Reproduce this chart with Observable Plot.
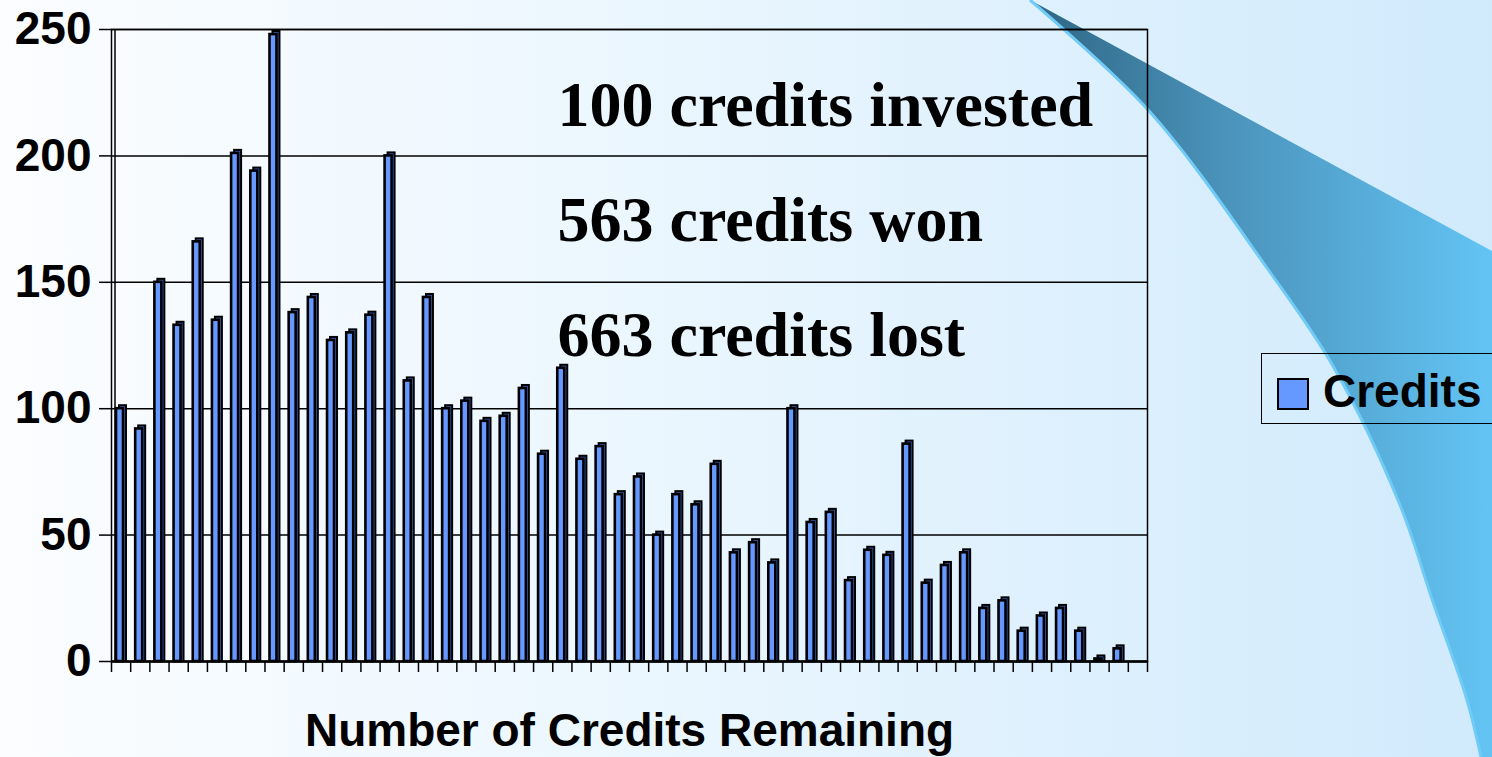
<!DOCTYPE html>
<html>
<head>
<meta charset="utf-8">
<script src="https://cdn.jsdelivr.net/npm/d3@7"></script>
<script src="https://cdn.jsdelivr.net/npm/@observablehq/plot@0.6"></script>
<style>
  html, body { margin: 0; padding: 0; background: #ffffff; }
  #wrap { position: relative; width: 1492px; height: 757px; overflow: hidden; }
  #bg { position: absolute; left: 0; top: 0; }
  #chart { position: absolute; left: 0; top: 0; }
  #legend { position: absolute; left: 1261px; top: 353px; width: 260px; height: 71px;
            border: 1.5px solid #000; box-sizing: border-box; font-family: "Liberation Sans", Arial, sans-serif; }
  #legend .sw { position: absolute; left: 15px; top: 23.5px; width: 32px; height: 32px;
                background: #6699ff; border: 2px solid #000; box-sizing: border-box; }
  #legend .lt { position: absolute; left: 61px; top: 14px; font-size: 46px; line-height: 46px;
                font-weight: bold; color: #000; white-space: nowrap; }
</style>
</head>
<body>
<div id="wrap">
  <svg id="bg" width="1492" height="757"></svg>
  <div id="chart"></div>
  <div id="legend"><span class="sw"></span><span class="lt"></span></div>
</div>
<script>
// ---- data ----
const bins = [1,2,3,4,5,6,7,8,9,10,11,12,13,14,15,16,17,18,19,20,21,22,23,24,25,26,27,
              28,29,30,31,32,33,34,35,36,37,38,39,40,41,42,43,44,45,46,47,48,49,50,51,52,53,54];
const credits = [100, 92, 150, 133, 166, 135, 201, 194, 248, 138,
                 144, 127, 130, 137, 200, 111, 144, 100, 103, 95,
                 97, 108, 82, 116, 80, 85, 66, 73, 50, 66,
                 62, 78, 43, 47, 39, 100, 55, 59, 32, 44,
                 42, 86, 31, 38, 43, 21, 24, 12, 18, 21,
                 12, 1, 5, 0];
const yTicks = [0, 50, 100, 150, 200, 250];
const notes = ["100 credits invested", "563 credits won", "663 credits lost"];
const seriesName = "Credits";
const xTitle = "Number of Credits Remaining";

const table = bins.map((b, i) => ({ i, bin: b, value: credits[i] })).filter(d => d.value > 0);
const edges = bins.map((b, i) => i).concat([bins.length]);

// ---- decorative background ----
(function drawBg() {
  const svg = d3.select("#bg");
  const defs = svg.append("defs");
  const g1 = defs.append("linearGradient").attr("id", "pageGrad").attr("x1", 0).attr("x2", 1).attr("y1", 0).attr("y2", 0);
  g1.append("stop").attr("offset", "0%").attr("stop-color", "#fbfdff");
  g1.append("stop").attr("offset", "45%").attr("stop-color", "#eaf6fe");
  g1.append("stop").attr("offset", "100%").attr("stop-color", "#d0eafc");
  const g2 = defs.append("linearGradient").attr("id", "bandGrad").attr("gradientUnits", "userSpaceOnUse")
    .attr("x1", 1040).attr("x2", 1492).attr("y1", 0).attr("y2", 0);
  g2.append("stop").attr("offset", "0%").attr("stop-color", "#306886");
  g2.append("stop").attr("offset", "40%").attr("stop-color", "#4a92ba");
  g2.append("stop").attr("offset", "100%").attr("stop-color", "#63c4f4");
  svg.append("rect").attr("width", 1492).attr("height", 757).attr("fill", "url(#pageGrad)");
  const curvePts = [[1030, 0], [1150, 112], [1267, 268], [1333, 366], [1400, 505], [1433, 602], [1467, 700], [1481, 757]];
  const curve = d3.line().curve(d3.curveCatmullRom)(curvePts);
  const band = curve + " L1492,757 L1492,251 Z";
  svg.append("path").attr("d", band).attr("fill", "url(#bandGrad)");
  svg.append("path").attr("d", curve).attr("fill", "none").attr("stroke", "#70cbf7").attr("stroke-width", 3);
})();

// ---- chart ----
const sans = "'Liberation Sans', Arial, sans-serif";
const serif = "'Liberation Serif', 'Times New Roman', serif";
const chart = Plot.plot({
  width: 1492,
  height: 757,
  marginLeft: 111,
  marginRight: 345,
  marginTop: 29,
  marginBottom: 96,
  style: { background: "transparent", fontFamily: sans, color: "#000" },
  x: { domain: [0, bins.length], axis: null },
  y: { domain: [0, 250], axis: null },
  marks: [
    Plot.ruleY(yTicks, { stroke: "#000", strokeWidth: 1.5 }),
    Plot.axisY({ ticks: yTicks, tickSize: 12, tickPadding: 8, label: null, fontSize: 46,
                 fontWeight: "bold", fill: "#000", stroke: "#000", strokeWidth: 1.5 }),
    Plot.axisX({ ticks: edges, tickSize: 11, tickFormat: () => "", label: null, stroke: "#000", strokeWidth: 1.5 }),
    Plot.frame({ stroke: "#000", strokeWidth: 1.5 }),
    Plot.ruleX([0], { dx: 3.5, stroke: "#000", strokeWidth: 1.5 }),
    // side / top faces
    Plot.rect(table, { x1: "i", x2: d => d.i + 1, y1: 0, y2: "value",
                       insetLeft: 8, insetRight: 4.2, insetTop: -3,
                       fill: "#3f62c0", stroke: "#000", strokeWidth: 2 }),
    // front faces
    Plot.rect(table, { x1: "i", x2: d => d.i + 1, y1: 0, y2: "value",
                       insetLeft: 5, insetRight: 7.2,
                       fill: "#6699ff", stroke: "#000", strokeWidth: 2.6 }),
    Plot.ruleY([0], { stroke: "#000", strokeWidth: 2.5 }),
    ...notes.map((t, k) => Plot.text([t], { text: d => d, frameAnchor: "top-left", textAnchor: "start",
                       lineAnchor: "top", dx: 446, dy: 51 + 115 * k, fontSize: 64, fontWeight: "bold",
                       fontFamily: serif, fill: "#000" })),
    Plot.text([xTitle], { text: d => d, frameAnchor: "bottom", lineAnchor: "top", dy: 52,
                          fontSize: 46, fontWeight: "bold", fill: "#000" })
  ]
});
document.getElementById("chart").appendChild(chart);
document.querySelector("#legend .lt").textContent = seriesName;
</script>
</body>
</html>
